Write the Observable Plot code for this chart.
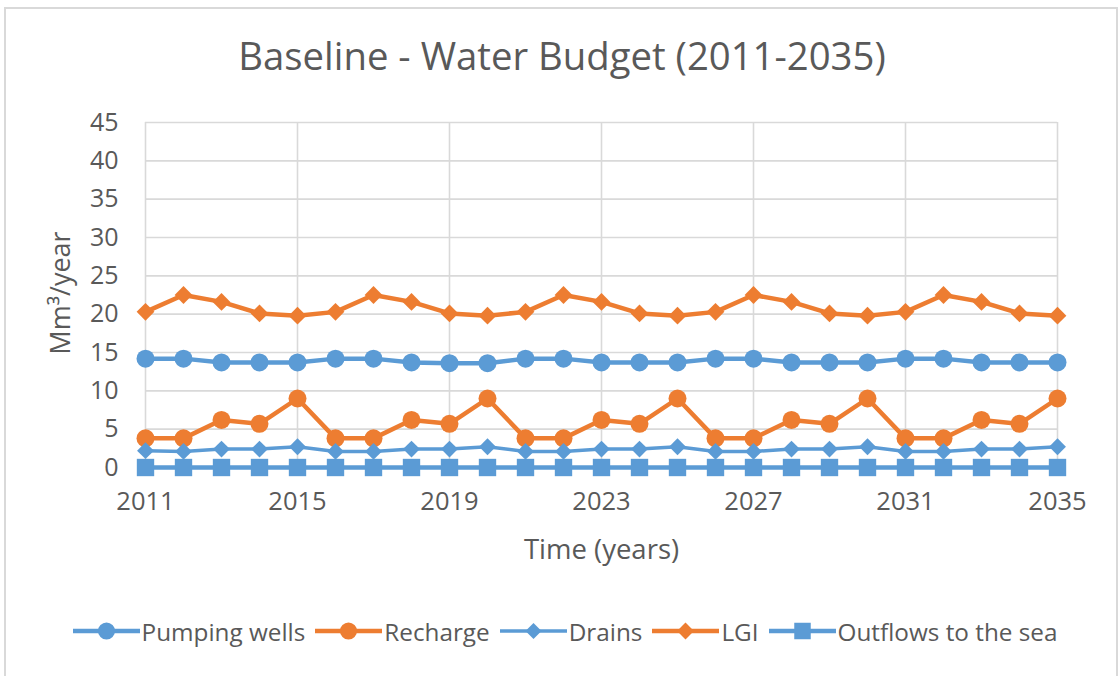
<!DOCTYPE html>
<html>
<head>
<meta charset="utf-8">
<script src="https://cdn.jsdelivr.net/npm/d3@7"></script>
<script src="https://cdn.jsdelivr.net/npm/@observablehq/plot@0.6"></script>
<style>
  body { margin: 0; background: #fff; }
  #wrap { position: relative; width: 1119px; height: 676px; overflow: hidden; font-family: "Open Sans", sans-serif; color: #595959; background: #fff; }
  #frame { position: absolute; left: 4px; top: 7px; width: 1114px; height: 720px; border: 2px solid #d9d9d9; box-sizing: border-box; }
  #title { position: absolute; left: 0; top: 0; }
  #chart { position: absolute; left: 0; top: 0; }
  #legend { position: absolute; left: 0; top: 613px; width: 1119px; height: 36px; display: flex; justify-content: center; align-items: center; padding-left: 21px; box-sizing: border-box; }
  .item { display: flex; align-items: center; margin-right: 10px; font-size: 24.3px; color: #595959; }
  .item svg { margin-right: 2px; }
</style>
</head>
<body>
<div id="wrap">
  <div id="frame"></div>
  <svg id="title" width="1119" height="100"></svg>
  <div id="chart"></div>
  <div id="legend"></div>
</div>
<script>
const titleText = "Baseline - Water Budget (2011-2035)";
const xLabel = "Time (years)";
const yLabel = "Mm³/year";

const years = [2011,2012,2013,2014,2015,2016,2017,2018,2019,2020,2021,2022,2023,2024,2025,2026,2027,2028,2029,2030,2031,2032,2033,2034,2035];
const xTicks = [2011,2015,2019,2023,2027,2031,2035];
const yTicks = [0,5,10,15,20,25,30,35,40,45];

const seriesNames = ["Pumping wells","Recharge","Drains","LGI","Outflows to the sea"];
const pumpingWells = [14.2,14.2,13.7,13.7,13.7,14.2,14.2,13.7,13.6,13.6,14.2,14.2,13.7,13.7,13.7,14.2,14.2,13.7,13.7,13.7,14.2,14.2,13.7,13.7,13.7];
const recharge     = [3.8,3.8,6.2,5.7,9.0,3.8,3.8,6.2,5.7,9.0,3.8,3.8,6.2,5.7,9.0,3.8,3.8,6.2,5.7,9.0,3.8,3.8,6.2,5.7,9.0];
const drains       = [2.2,2.1,2.4,2.4,2.7,2.1,2.1,2.4,2.4,2.7,2.1,2.1,2.4,2.4,2.7,2.1,2.1,2.4,2.4,2.7,2.1,2.1,2.4,2.4,2.7];
const lgi          = [20.3,22.5,21.6,20.1,19.8,20.3,22.5,21.6,20.1,19.8,20.3,22.5,21.6,20.1,19.8,20.3,22.5,21.6,20.1,19.8,20.3,22.5,21.6,20.1,19.8];
const outflows     = [0,0,0,0,0,0,0,0,0,0,0,0,0,0,0,0,0,0,0,0,0,0,0,0,0];

const blue = "#5b9bd5", orange = "#ed7d31";
const styles = [
  {values: pumpingWells, color: blue,   symbol: "circle",   r: 9.0, sw: 4.5},
  {values: recharge,     color: orange, symbol: "circle",   r: 9.0, sw: 4.5},
  {values: drains,       color: blue,   symbol: "diamond2", r: 7.6, sw: 3.5},
  {values: lgi,          color: orange, symbol: "diamond2", r: 8.0, sw: 4.5},
  {values: outflows,     color: blue,   symbol: "square",   r: 9.8, sw: 4.5}
];

const marks = [
  Plot.gridX(xTicks, {stroke: "#d9d9d9", strokeOpacity: 1, strokeWidth: 1.6}),
  Plot.gridY(yTicks, {stroke: "#d9d9d9", strokeOpacity: 1, strokeWidth: 1.6}),
  Plot.axisX(xTicks, {tickSize: 0, tickPadding: 24, tickFormat: d => String(d), label: null, fontSize: 25.5, fill: "#595959"}),
  Plot.axisY(yTicks, {tickSize: 0, tickPadding: 27, label: null, fontSize: 25, fill: "#595959"}),
  Plot.text([xLabel], {frameAnchor: "bottom", dy: 83, lineAnchor: "middle", textAnchor: "middle", fontSize: 27.5, fill: "#595959"}),
  Plot.text([yLabel], {frameAnchor: "left", dx: -84, dy: -2, rotate: -90, lineAnchor: "middle", textAnchor: "middle", fontSize: 27, fill: "#595959"})
];
styles.forEach((s, k) => {
  const data = years.map((y, i) => ({year: y, value: s.values[i], series: seriesNames[k]}));
  marks.push(Plot.line(data, {x: "year", y: "value", stroke: s.color, strokeWidth: s.sw, clip: false}));
  marks.push(Plot.dot(data, {x: "year", y: "value", fill: s.color, stroke: "none", symbol: s.symbol, r: s.r, clip: false}));
});

const chart = Plot.plot({
  width: 1119,
  height: 580,
  marginTop: 122,
  marginBottom: 113,
  marginLeft: 145,
  marginRight: 62,
  style: {fontFamily: "'Open Sans', sans-serif", color: "#595959", background: "transparent", overflow: "visible"},
  x: {domain: [2011, 2035]},
  y: {domain: [0, 45]},
  marks
});
document.getElementById("chart").appendChild(chart);

// title
d3.select("#title").append("text")
  .attr("x", 562).attr("y", 70)
  .attr("text-anchor", "middle")
  .attr("font-family", "'Open Sans', sans-serif")
  .attr("font-size", 38.3)
  .attr("fill", "#595959")
  .text(titleText);

// legend
const legend = d3.select("#legend");
styles.forEach((s, k) => {
  const item = legend.append("div").attr("class", "item");
  const svg = item.append("svg").attr("width", 67).attr("height", 24);
  svg.append("line").attr("x1", 0).attr("x2", 67).attr("y1", 12).attr("y2", 12)
    .attr("stroke", s.color).attr("stroke-width", s.sw);
  const sym = s.symbol === "circle" ? d3.symbolCircle : s.symbol === "square" ? d3.symbolSquare : d3.symbolDiamond2;
  const rr = s.r * 0.95;
  svg.append("path").attr("transform", "translate(33.5,12)")
    .attr("d", d3.symbol(sym, Math.PI * rr * rr)())
    .attr("fill", s.color);
  item.append("span").text(seriesNames[k]);
});
</script>
</body>
</html>
